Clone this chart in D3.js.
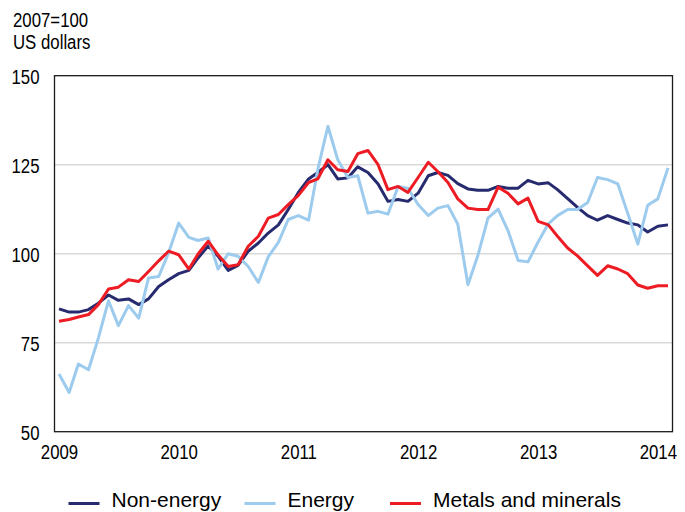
<!DOCTYPE html>
<html>
<head>
<meta charset="utf-8">
<script src="https://cdn.jsdelivr.net/npm/d3@7"></script>
<style>
  body { margin: 0; background: #fff; }
  svg { display: block; font-family: "Liberation Sans", Arial, sans-serif; }
</style>
</head>
<body>
<div id="chart"></div>
<script>
// --- DATA (monthly, Jan 2009 - Feb 2014, 2007=100) ---
const startMonth = new Date(2009, 0, 1);
const yearLabels = ["2009", "2010", "2011", "2012", "2013", "2014"];
const yTicks = [50, 75, 100, 125, 150];
const seriesNames = ["Non-energy", "Energy", "Metals and minerals"];

const nonEnergy = [
  84.5, 83.6, 83.6, 84.3, 86.1, 88.4, 86.9, 87.3, 85.7, 87.3, 90.8, 92.7,
  94.4, 95.3, 98.8, 102.2, 99.3, 95.3, 96.7, 100.7, 103.0, 105.8, 108.1, 112.4,
  117.2, 121.0, 122.8, 125.0, 121.0, 121.3, 124.4, 122.8, 119.6, 114.7, 115.2, 114.7,
  117.0, 121.9, 122.8, 122.0, 119.7, 118.2, 117.8, 117.8, 118.9, 118.4, 118.4, 120.6,
  119.6, 119.9, 118.0, 115.5, 113.0, 110.7, 109.4, 110.7, 109.6, 108.6, 108.1, 106.1,
  107.7, 108.1
];
const energy = [
  66.2, 61.0, 69.0, 67.4, 76.3, 86.8, 79.8, 85.4, 81.9, 93.2, 93.6, 100.2,
  108.6, 104.6, 103.7, 104.4, 95.7, 100.0, 99.3, 96.4, 91.9, 99.1, 103.2, 109.6,
  110.7, 109.4, 123.6, 135.8, 126.4, 121.4, 121.9, 111.4, 111.9, 111.1, 118.9, 118.4,
  113.8, 110.7, 112.8, 113.5, 108.3, 91.3, 99.4, 110.0, 112.5, 106.5, 98.1, 97.7,
  103.3, 108.4, 110.7, 112.4, 112.4, 114.4, 121.4, 120.8, 119.6, 111.4, 102.7, 113.6,
  115.4, 124.1
];
const metals = [
  81.0, 81.5, 82.2, 82.9, 85.7, 90.1, 90.6, 92.7, 92.2, 95.0, 98.0, 100.7,
  99.7, 95.7, 99.9, 103.5, 99.7, 96.4, 96.9, 102.1, 104.9, 110.0, 111.0, 113.8,
  116.4, 120.0, 121.0, 126.4, 123.6, 123.1, 128.1, 129.0, 125.0, 118.0, 118.9, 117.2,
  121.4, 125.7, 123.1, 120.0, 115.4, 112.8, 112.4, 112.4, 118.7, 117.0, 114.0, 115.6,
  109.1, 108.1, 104.9, 101.6, 99.4, 96.6, 93.9, 96.6, 95.7, 94.4, 91.2, 90.3,
  91.0, 91.0
];

const colors = ["#262a6e", "#9ccbee", "#ed1c24"];

// --- LAYOUT ---
const W = 685, H = 512;
const plot = { left: 54.5, right: 672.5, top: 75.7, bottom: 431.7 };
const narrow = 0.8; // axis text is a condensed face

const svg = d3.select("#chart").append("svg")
  .attr("width", W).attr("height", H);

const dates = nonEnergy.map((d, i) => d3.timeMonth.offset(startMonth, i));

const x = d3.scaleTime()
  .domain(d3.extent(dates))
  .range([59, 668]);
const y = d3.scaleLinear()
  .domain([50, 150])
  .range([plot.bottom, plot.top]);

// gridlines
svg.append("g").selectAll("line")
  .data(yTicks.filter(t => t > 50 && t < 150))
  .join("line")
  .attr("x1", plot.left).attr("x2", plot.right)
  .attr("y1", d => y(d)).attr("y2", d => y(d))
  .attr("stroke", "#d9d9d9").attr("stroke-width", 1.5);

// y axis labels
const yAxis = svg.append("g")
  .attr("transform", `translate(${plot.left},0)`)
  .call(d3.axisLeft(y).tickValues(yTicks).tickSize(0).tickPadding(0));
yAxis.select(".domain").remove();
yAxis.selectAll("text")
  .attr("x", -15 / narrow)
  .attr("dy", "0.36em")
  .attr("transform", `scale(${narrow},1)`)
  .attr("font-size", 21)
  .attr("font-family", "Liberation Sans, Arial, sans-serif")
  .attr("fill", "#000");

// x axis labels
const xAxis = svg.append("g")
  .attr("transform", `translate(0,${plot.bottom})`)
  .call(d3.axisBottom(x)
    .tickValues(yearLabels.map(s => new Date(+s, 0, 1)))
    .tickFormat(d3.timeFormat("%Y"))
    .tickSize(0));
xAxis.select(".domain").remove();
xAxis.selectAll("text")
  .attr("x", 0)
  .attr("y", 27.5)
  .attr("dy", 0)
  .attr("transform", `scale(${narrow},1)`)
  .attr("font-size", 21)
  .attr("font-family", "Liberation Sans, Arial, sans-serif")
  .attr("fill", "#000");

// series
const line = d3.line()
  .x((d, i) => x(dates[i]))
  .y(d => y(d));

[nonEnergy, energy, metals].forEach((s, k) => {
  svg.append("path")
    .datum(s)
    .attr("fill", "none")
    .attr("stroke", colors[k])
    .attr("stroke-width", 3)
    .attr("stroke-linejoin", "round")
    .attr("d", line);
});

// frame
svg.append("rect")
  .attr("x", plot.left).attr("y", plot.top)
  .attr("width", plot.right - plot.left)
  .attr("height", plot.bottom - plot.top)
  .attr("fill", "none")
  .attr("stroke", "#1a1a1a")
  .attr("stroke-width", 1.3);

// unit labels
const units = svg.append("g").attr("transform", "translate(13,0)");
units.selectAll("text")
  .data(["2007=100", "US dollars"])
  .join("text")
  .attr("transform", (d, i) => `translate(0,${i ? 49.3 : 27}) scale(${narrow},1)`)
  .attr("font-size", 21)
  .attr("fill", "#000")
  .text(d => d);

// legend (kept just inside the bottom edge)
const legendX = [68.5, 244.5, 390];
const legend = svg.append("g").selectAll("g")
  .data(seriesNames)
  .join("g")
  .attr("transform", (d, i) => `translate(${legendX[i]},503.5)`);
legend.append("line")
  .attr("x1", 0).attr("x2", 31)
  .attr("stroke", (d, i) => colors[i])
  .attr("stroke-width", 3);
legend.append("text")
  .attr("x", 43)
  .attr("y", 3.5)
  .attr("font-size", 21)
  .attr("fill", "#000")
  .text(d => d);
</script>
</body>
</html>
